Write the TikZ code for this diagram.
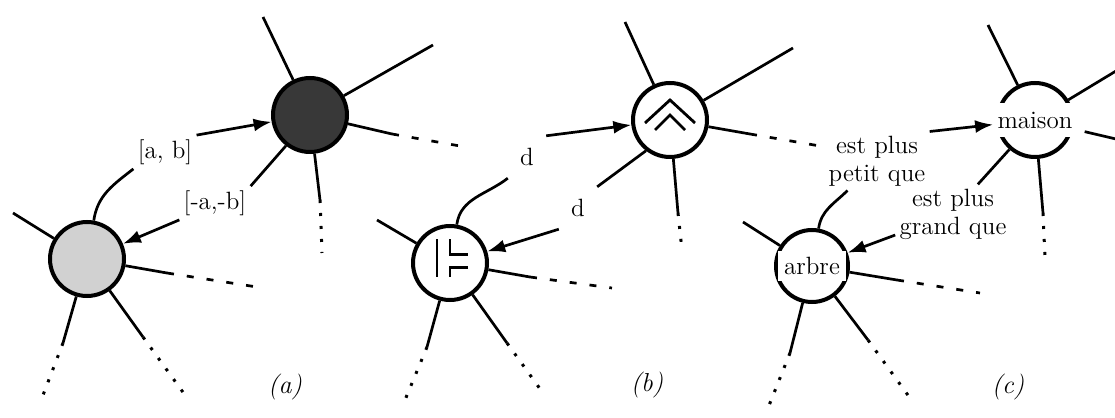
\documentclass[tikz,border=0pt]{standalone}
\usepackage{fontspec}
\usetikzlibrary{arrows.meta}
\begin{document}
\begin{tikzpicture}[x=0.5pt,y=0.5pt,
  vtx/.style={circle,draw,line width=2pt,minimum size=37pt,inner sep=0pt},
  edge/.style={line width=1.35pt},
  dashpart/.style={line width=1.35pt,dash pattern=on 3.5pt off 6.5pt},
  dotpart/.style={line width=1.5pt,dash pattern=on 1.5pt off 5pt},
  arr/.style={edge,-{Latex[length=9pt,width=6.5pt]}},
  symb/.style={line width=1.4pt},
  lbl/.style={font=\fontsize{12.5}{14}\selectfont,inner sep=2pt,align=center},
  figcap/.style={font=\fontsize{13}{15}\selectfont\itshape}]
\useasboundingbox (0,0) rectangle (1115,418);

% ---------- panel (a) ----------
\node[vtx,fill=black!78] (D) at (310,303) {};
\node[vtx,fill=black!18] (L) at (87,159) {};
\coordinate (d1) at (263,401);
\coordinate (d2) at (433,373);
\coordinate (d3m) at (392,284); \coordinate (d3e) at (460,272);
\coordinate (d4m) at (320,218); \coordinate (d4e) at (322,165);
\coordinate (l1) at (13,205);
\coordinate (l2m) at (167,145); \coordinate (l2e) at (257,131);
\coordinate (l3m) at (63,75);   \coordinate (l3e) at (40,15);
\coordinate (l4m) at (143,81);  \coordinate (l4e) at (185,23);
\draw[edge] (D) -- (d1);
\draw[edge] (D) -- (d2);
\draw[edge] (D) -- (d3m); \draw[dashpart] (d3m) -- (d3e);
\draw[edge] (D) -- (d4m); \draw[dotpart] (d4m) -- (d4e);
\draw[edge] (L) -- (l1);
\draw[edge] (L) -- (l2m); \draw[dashpart] (l2m) -- (l2e);
\draw[edge] (L) -- (l3m); \draw[dotpart] (l3m) -- (l3e);
\draw[edge] (L) -- (l4m); \draw[dotpart] (l4m) -- (l4e);
\node[lbl] (labab) at (165,266) {[a, b]};
\node[lbl] (labmab) at (215,215) {[-a,-b]};
\draw[edge] (L.80) to[out=82,in=218] (labab.south west);
\draw[arr] (labab.north east) -- (D);
\draw[edge] (D.232) -- (labmab.north east);
\draw[arr] (labmab.south west) -- (L);
\node[figcap] (capa) at (285,31) {(a)};

% ---------- panel (b) ----------
\node[vtx,fill=white] (T) at (670,298) {};
\node[vtx,fill=white] (B) at (450,155) {};
\draw[symb] (645,295) -- (670,318) -- (695,295);
\draw[symb] (655,288) -- (670,303) -- (685,288);
\draw[symb] (437,178.5) -- (437,140.5);
\draw[symb] (450,178.5) -- (450,163.5) -- (468,163.5);
\draw[symb] (468,150.5) -- (450,150.5) -- (450,140.5);
\coordinate (t1) at (625,396);
\coordinate (t2) at (793,370);
\coordinate (t3m) at (750,284); \coordinate (t3e) at (820,272);
\coordinate (t4m) at (678,205); \coordinate (t4e) at (682,168);
\coordinate (b1) at (377,198);
\coordinate (b2m) at (530,141); \coordinate (b2e) at (612,130);
\coordinate (b3m) at (427,71);  \coordinate (b3e) at (405,18);
\coordinate (b4m) at (507,75);  \coordinate (b4e) at (543,25);
\draw[edge] (T) -- (t1);
\draw[edge] (T) -- (t2);
\draw[edge] (T) -- (t3m); \draw[dashpart] (t3m) -- (t3e);
\draw[edge] (T) -- (t4m); \draw[dotpart] (t4m) -- (t4e);
\draw[edge] (B) -- (b1);
\draw[edge] (B) -- (b2m); \draw[dashpart] (b2m) -- (b2e);
\draw[edge] (B) -- (b3m); \draw[dotpart] (b3m) -- (b3e);
\draw[edge] (B) -- (b4m); \draw[dotpart] (b4m) -- (b4e);
\node[lbl,inner sep=6pt] (labd1) at (527,261) {d};
\node[lbl,inner sep=6pt] (labd2) at (578,210) {d};
\draw[edge] (B.80) to[out=82,in=218] (labd1.south west);
\draw[arr] (labd1.north east) -- (T);
\draw[edge] (T.232) -- (labd2.north east);
\draw[arr] (labd2.south west) -- (B);
\node[figcap] (capb) at (647,33) {(b)};

% ---------- panel (c) ----------
\node[vtx] (M) at (1035,298) {};
\node[vtx,minimum size=36pt] (A) at (812,152) {};
\node[lbl,fill=white,inner xsep=2pt,inner ysep=4.5pt] (Mt) at (M) {maison};
\node[lbl,fill=white,inner sep=3.3pt] (At) at (A) {arbre};
\coordinate (m1) at (988,393);
\coordinate (m2) at (1116,347);
\coordinate (m3) at (1116,279);
\coordinate (m4m) at (1043,205); \coordinate (m4e) at (1045,160);
\coordinate (a1) at (743,196);
\coordinate (a2m) at (897,138); \coordinate (a2e) at (980,125);
\coordinate (a3m) at (790,65);  \coordinate (a3e) at (768,10);
\coordinate (a4m) at (868,78);  \coordinate (a4e) at (910,20);
\draw[edge] (M) -- (m1);
\draw[edge] (M) -- (m2);
\draw[edge,shorten <=4pt] (Mt) -- (m3);
\draw[edge] (M) -- (m4m); \draw[dotpart] (m4m) -- (m4e);
\draw[edge] (A) -- (a1);
\draw[edge] (A) -- (a2m); \draw[dashpart] (a2m) -- (a2e);
\draw[edge] (A) -- (a3m); \draw[dotpart] (a3m) -- (a3e);
\draw[edge] (A) -- (a4m); \draw[dotpart] (a4m) -- (a4e);
\node[lbl] (labpt) at (877,257) {est plus\\petit que};
\node[lbl] (labgq) at (953,204) {est plus\\grand que};
\draw[edge] (A.80) to[out=82,in=225] (labpt.225);
\draw[arr] (labpt.north east) -- (Mt);
\draw[edge] (M.229) -- (labgq.50);
\draw[arr] (labgq.200) -- (A);
\node[figcap] (capc) at (1008,31) {(c)};
\end{tikzpicture}
\end{document}
